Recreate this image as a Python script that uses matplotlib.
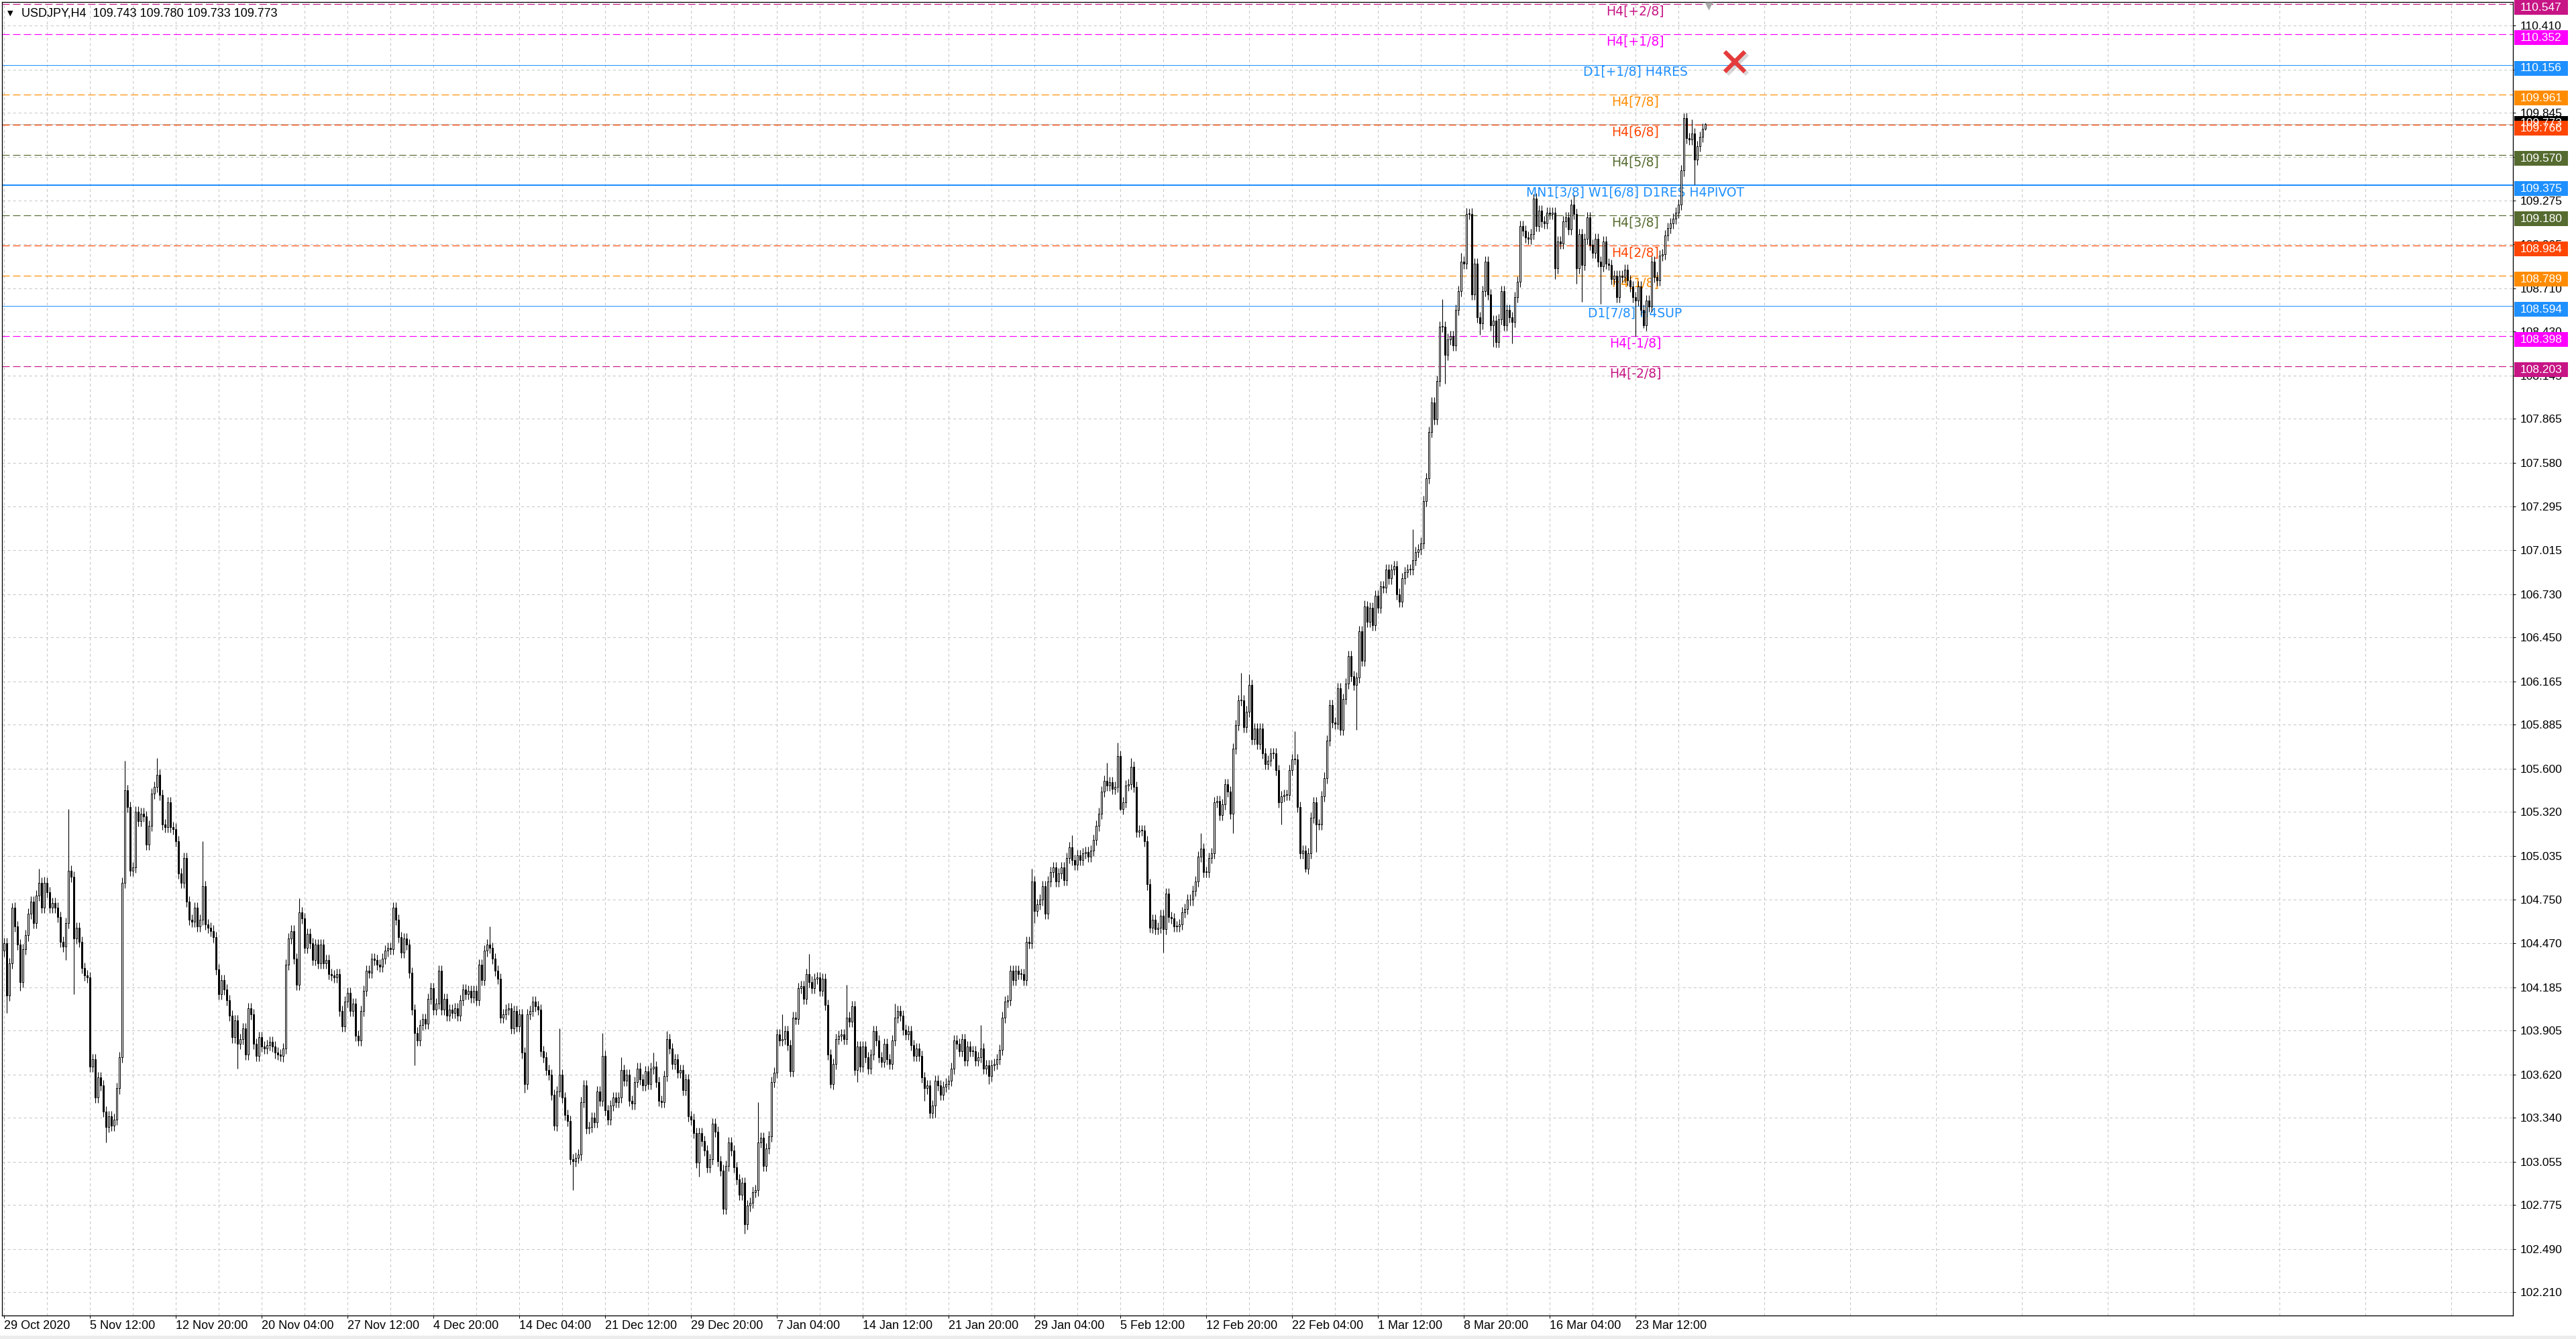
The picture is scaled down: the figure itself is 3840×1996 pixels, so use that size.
import numpy as np
import matplotlib
matplotlib.use("Agg")
import matplotlib.pyplot as plt
from matplotlib.patches import Rectangle
from matplotlib.transforms import offset_copy

plt.rcParams['lines.scale_dashes'] = False

# ---- data (USDJPY H4, one close per bar) ----
first_open = 104.42
closes = [
    # 29 Oct .. early Jan
    104.47, 104.13, 104.34, 104.70, 104.58, 104.46, 104.22, 104.43, 104.52, 104.66,
    104.74, 104.60, 104.78, 104.86, 104.70, 104.86, 104.80, 104.70, 104.73, 104.70,
    104.64, 104.48, 104.45, 104.60, 104.94, 104.90, 104.50, 104.57, 104.48, 104.31,
    104.26, 104.25, 103.67, 103.72, 103.47, 103.60, 103.55, 103.38, 103.28, 103.35,
    103.29, 103.33, 103.53, 103.73, 104.86, 105.46, 105.35, 104.94, 104.96, 105.32,
    105.26, 105.31, 105.29, 105.11, 105.23, 105.44, 105.48, 105.56, 105.43, 105.24,
    105.22, 105.38, 105.22, 105.21, 105.13, 104.92, 104.86, 105.02, 104.74, 104.62,
    104.61, 104.70, 104.58, 104.62, 104.84, 104.59, 104.57, 104.55, 104.51, 104.30,
    104.14, 104.23, 104.17, 104.10, 104.00, 103.86, 103.97, 103.82, 103.85, 103.92,
    103.75, 104.05, 104.01, 103.82, 103.74, 103.86, 103.80, 103.79, 103.81, 103.83,
    103.80, 103.76, 103.75, 103.74, 103.79, 104.33, 104.50, 104.55, 104.37, 104.20,
    104.67, 104.63, 104.44, 104.53, 104.47, 104.36, 104.46, 104.34, 104.46, 104.34,
    104.36, 104.27, 104.26, 104.25, 104.27, 104.03, 103.93, 104.09, 104.15, 104.03,
    104.08, 103.87, 103.84, 104.03, 104.16, 104.29, 104.28, 104.37, 104.36, 104.33,
    104.32, 104.37, 104.42, 104.44, 104.43, 104.70, 104.62, 104.51, 104.41, 104.50,
    104.46, 104.28, 104.04, 103.89, 103.84, 103.94, 103.98, 103.95, 104.11, 104.18,
    104.04, 104.08, 104.29, 104.04, 104.11, 104.00, 104.04, 104.02, 104.05, 104.00,
    104.10, 104.17, 104.14, 104.16, 104.12, 104.16, 104.10, 104.33, 104.23, 104.42,
    104.46, 104.44, 104.37, 104.29, 104.24, 103.99, 104.01, 104.04, 104.05, 103.92,
    104.03, 103.93, 104.01, 103.76, 103.56, 104.01, 104.03, 104.09, 104.06, 104.04,
    103.77, 103.73, 103.65, 103.62, 103.49, 103.29, 103.51, 103.62, 103.47, 103.36,
    103.32, 103.07, 103.06, 103.08, 103.10, 103.44, 103.55, 103.27, 103.28, 103.34,
    103.31, 103.51, 103.45, 103.74,
    # mid Dec .. mid Feb
    103.39, 103.33, 103.42, 103.47, 103.44, 103.47, 103.65, 103.58, 103.62, 103.45,
    103.43, 103.57, 103.66, 103.59, 103.55, 103.64, 103.56, 103.66, 103.67,
    103.57, 103.45, 103.44, 103.61, 103.85, 103.79, 103.69, 103.72, 103.63, 103.65,
    103.52, 103.59, 103.35, 103.33, 103.24, 103.05, 103.24, 103.19, 103.13,
    103.02, 103.07, 103.30, 103.25, 103.06, 103.00, 102.75, 103.03, 103.18, 103.13,
    103.02, 102.94, 102.84, 102.92, 102.65, 102.77, 102.79, 102.86, 102.87, 103.18,
    103.21, 103.03, 103.14, 103.22, 103.57, 103.63, 103.88, 103.84, 103.85, 103.90,
    103.81, 103.64, 103.99, 103.98, 104.18, 104.19, 104.11, 104.27, 104.22, 104.18,
    104.24, 104.25,
    104.16, 104.24, 104.07, 103.75, 103.56, 103.69, 103.85, 103.87,
    103.88, 103.85, 103.99, 103.96, 104.06, 103.65, 103.80, 103.67, 103.80, 103.73,
    103.66, 103.75, 103.90, 103.84, 103.73, 103.70, 103.82, 103.72, 103.69,
    103.84, 103.99, 104.03, 104.00, 103.91, 103.88, 103.90, 103.81, 103.74, 103.79,
    103.74, 103.60, 103.53, 103.55, 103.37, 103.42, 103.58, 103.55, 103.49, 103.54,
    103.56, 103.58, 103.66, 103.84, 103.82, 103.77, 103.85, 103.71, 103.80, 103.77,
    103.77, 103.71, 103.73, 103.79, 103.66, 103.68, 103.61, 103.68, 103.69, 103.72,
    103.78, 103.99, 104.09, 104.10, 104.29, 104.23, 104.29, 104.27,
    104.27, 104.23, 104.48, 104.47, 104.87, 104.68, 104.72, 104.75, 104.84, 104.66,
    104.87, 104.93, 104.96, 104.87, 104.92, 104.96, 104.88, 105.02, 105.09, 105.01,
    104.98, 105.04, 105.01, 105.05, 105.06, 105.03,
    105.07, 105.14, 105.23, 105.31, 105.45, 105.52, 105.49, 105.51, 105.47, 105.48,
    105.68, 105.34, 105.38, 105.49, 105.50, 105.61, 105.48, 105.19, 105.20,
    # Feb .. early Mar
    105.20, 105.13, 104.85, 104.57, 104.62, 104.56, 104.57, 104.65, 104.56, 104.79,
    104.64, 104.63, 104.58, 104.58, 104.59, 104.67, 104.69, 104.75, 104.75, 104.81,
    104.87, 105.03, 105.08, 104.93, 104.93, 105.02, 105.05, 105.38, 105.39, 105.30,
    105.37, 105.50, 105.45, 105.31, 105.73, 105.88, 106.04, 106.04, 105.87, 105.97,
    106.14, 105.79, 105.86, 105.76, 105.86, 105.70, 105.63, 105.65, 105.70, 105.70,
    105.59, 105.38, 105.42, 105.43, 105.43, 105.59, 105.66, 105.66, 105.35, 105.05,
    105.07, 104.95, 105.05, 105.28, 105.38, 105.24, 105.24, 105.42, 105.54, 105.78,
    106.01, 105.90, 105.89, 106.12, 105.85, 106.05, 106.15, 106.33, 106.20, 106.14,
    106.19, 106.49, 106.30, 106.65, 106.55, 106.64, 106.53, 106.72, 106.64, 106.78,
    106.77, 106.89, 106.83, 106.89, 106.91, 106.73, 106.68, 106.83, 106.87, 106.89,
    # Mar rally .. 29 Mar
    106.89, 106.95, 107.00, 107.02, 107.06, 107.33, 107.48, 107.78, 107.97, 107.86,
    108.11, 108.46, 108.46, 108.28, 108.38, 108.40, 108.34, 108.57, 108.69, 108.88,
    108.87, 109.19, 109.19, 108.67, 108.87, 108.52, 108.48, 108.69, 108.88, 108.67,
    108.47, 108.50, 108.36, 108.51, 108.69, 108.47, 108.57, 108.52, 108.49, 108.65,
    108.75, 109.11, 109.08, 109.04, 109.03, 109.06, 109.29, 109.11, 109.21, 109.14,
    109.13, 109.20, 109.19, 109.20, 108.84, 109.01, 109.00, 109.14, 109.17, 109.09,
    109.25, 109.19, 108.84, 109.06, 108.86, 109.03, 109.17, 108.99, 108.94, 109.03,
    108.88, 108.85, 109.01, 108.87, 108.86, 108.77, 108.79, 108.65, 108.79, 108.78,
    108.83, 108.76, 108.72, 108.65, 108.63, 108.72, 108.57, 108.47, 108.63, 108.59,
    108.88, 108.78, 108.76, 108.92, 108.93, 109.05, 109.10, 109.13, 109.16, 109.20,
    109.25, 109.47, 109.81, 109.68, 109.67, 109.71, 109.54, 109.63, 109.69, 109.743,
    109.773,
]

# wicks that stand out clearly in the picture (bar index, price)
high_bars = [3, 13, 15, 24, 45, 57, 74, 110, 181, 207, 223, 230, 242, 247, 281, 290,
             300, 314, 332, 364, 383, 398, 411, 415, 420, 446, 461, 464, 481, 507,
             525, 536, 543, 545, 547, 570, 585, 626, 629, 634]
high_vals = [104.73, 104.95, 104.90, 105.34, 105.65, 105.67, 105.13, 104.76, 104.58,
             103.92, 103.89, 103.73, 103.76, 103.90, 103.44, 104.01, 104.40, 104.20,
             104.08, 103.94, 104.95, 105.17, 105.64, 105.77, 105.67, 105.18, 106.22,
             106.21, 105.84, 106.69, 107.15, 108.64, 108.94, 109.23, 109.23, 109.32,
             109.31, 109.84, 109.80, 109.780]
low_bars = [1, 6, 23, 26, 38, 87, 104, 153, 194, 205, 212, 259, 276, 308, 318, 343,
            347, 367, 384, 416, 427, 432, 458, 476, 485, 489, 504, 537, 550, 555,
            562, 578, 586, 588, 595, 608, 611, 630, 634]
low_vals = [104.02, 104.16, 104.36, 104.14, 103.18, 103.66, 103.70, 103.68, 103.50,
            103.26, 102.87, 102.96, 102.59, 103.53, 103.57, 103.45, 103.34, 103.56,
            104.60, 105.33, 104.54, 104.41, 105.18, 105.24, 104.93, 105.06, 105.85,
            108.09, 108.41, 108.33, 108.35, 108.77, 108.74, 108.62, 108.61, 108.40,
            108.45, 109.38, 109.733]

symbol = 'USDJPY,H4'
quote = [109.743, 109.780, 109.733, 109.773]   # open high low close of last bar
last_price = 109.773

date_labels = ['29 Oct 2020', '5 Nov 12:00', '12 Nov 20:00', '20 Nov 04:00',
               '27 Nov 12:00', '4 Dec 20:00', '14 Dec 04:00', '21 Dec 12:00',
               '29 Dec 20:00', '7 Jan 04:00', '14 Jan 12:00', '21 Jan 20:00',
               '29 Jan 04:00', '5 Feb 12:00', '12 Feb 20:00', '22 Feb 04:00',
               '1 Mar 12:00', '8 Mar 20:00', '16 Mar 04:00', '23 Mar 12:00']

price_ticks = [102.210, 102.490, 102.775, 103.055, 103.340, 103.620, 103.905, 104.185,
               104.470, 104.750, 105.035, 105.320, 105.600, 105.885, 106.165, 106.450,
               106.730, 107.015, 107.295, 107.580, 107.865, 108.145, 108.430, 108.710,
               108.995, 109.275, 109.560, 109.845, 110.125, 110.410]

level_prices = [110.547, 110.352, 110.156, 109.961, 109.766, 109.570, 109.375,
                109.180, 108.984, 108.789, 108.594, 108.398, 108.203]
level_names = ['H4[+2/8]', 'H4[+1/8]', 'D1[+1/8] H4RES', 'H4[7/8]', 'H4[6/8]',
               'H4[5/8]', 'MN1[3/8] W1[6/8] D1RES H4PIVOT', 'H4[3/8]', 'H4[2/8]',
               'H4[1/8]', 'D1[7/8] H4SUP', 'H4[-1/8]', 'H4[-2/8]']
level_colors = ['#C71585', '#FF00FF', '#1E90FF', '#FF8C00', '#FF4500', '#556B2F',
                '#1E90FF', '#556B2F', '#FF4500', '#FF8C00', '#1E90FF', '#FF00FF',
                '#C71585']

# ---- layout (pixels of the 3840x1996 screenshot) ----
W, H, DPI = 3840, 1996, 100
PX = 0.72                      # one pixel in points
left, top, right, bottom = 3, 3, 3746, 1961
bar_px = 4
y_lo, y_hi = 102.060, 110.562
label_bar = 608                # where the level captions sit
scale_font = ['Liberation Sans', 'DejaVu Sans']

fig = plt.figure(figsize=(W / DPI, H / DPI), dpi=DPI, facecolor='white')
ax = fig.add_axes([left / W, 1 - bottom / H, (right - left) / W, (bottom - top) / H])
ax.set_facecolor('white')
x0 = -(5.5 - left) / bar_px
ax.set_xlim(x0, x0 + (right - left) / bar_px)
ax.set_ylim(y_lo, y_hi)


def price_px(p):
    return top + (y_hi - p) / (y_hi - y_lo) * (bottom - top)


# grid
ax.set_axisbelow(True)
major_x = np.arange(len(date_labels)) * 32
ax.set_xticks(major_x, labels=date_labels)
ax.set_xticks(np.arange(16, 940, 32), minor=True)
ax.set_yticks(price_ticks, labels=['%.3f' % t for t in price_ticks])
grid_style = dict(color='#c4c4c4', linewidth=PX, linestyle=(0, (2.9, 2.9)))
ax.grid(True, axis='x', which='both', **grid_style)
ax.grid(True, axis='y', which='major', **grid_style)

ax.yaxis.tick_right()
ax.tick_params(axis='y', direction='out', length=3, width=PX, pad=5, labelsize=12.5,
               labelfontfamily='Liberation Sans')
ax.tick_params(axis='x', which='major', direction='out', length=3, width=PX, pad=2,
               labelsize=13, labelfontfamily='Liberation Sans')
ax.tick_params(axis='x', which='minor', length=0)
for lab in ax.get_xticklabels():
    lab.set_horizontalalignment('left')
for s in ax.spines.values():
    s.set_color('black')
    s.set_linewidth(PX * 1.3)

# bid line
ax.axhline(last_price, color='#c0c0c0', linewidth=PX, zorder=1)

# level lines and captions (behind the candles)
for p, name, col in zip(level_prices, level_names, level_colors):
    if name.startswith('H4['):
        ax.axhline(p, color=col, linewidth=PX * 1.2, linestyle=(0, (7.9, 3.6)), zorder=1)
    elif 'PIVOT' in name:
        ax.axhline(p, color=col, linewidth=PX * 2.0, zorder=1)
    else:
        ax.axhline(p, color=col, linewidth=PX, zorder=1)
    ax.text(label_bar, p, name, color=col, fontsize=13.5, family='DejaVu Sans',
            ha='center', va='top', zorder=1.5,
            transform=offset_copy(ax.transData, fig=fig, y=-1, units='dots'))

# candles
c = np.array(closes)
o = np.concatenate([[first_open], c[:-1]])
x = np.arange(len(c))
body_top = np.maximum(o, c)
body_bot = np.minimum(o, c)
hi = body_top + 0.035
lo = body_bot - 0.035
for b, v in zip(high_bars, high_vals):
    hi[b] = max(v, body_top[b])
for b, v in zip(low_bars, low_vals):
    lo[b] = min(v, body_bot[b])
ax.vlines(x, lo, hi, color='black', linewidth=PX * 1.1, zorder=3)
height = np.maximum(body_top - body_bot, 0.004)
up = c >= o
ax.bar(x[up], height[up], bottom=body_bot[up], width=0.5, facecolor='white',
       edgecolor='black', linewidth=PX, zorder=4)
ax.bar(x[~up], height[~up], bottom=body_bot[~up], width=0.5, facecolor='black',
       edgecolor='black', linewidth=PX, zorder=4)

# red cross and shift marker
shadow = offset_copy(ax.transData, fig=fig, x=3, y=-3, units='dots')
ax.plot([645], [110.175], marker='x', ms=21, mew=5, color='#b0b0b0', alpha=0.5,
        transform=shadow, zorder=6, clip_on=False)
ax.plot([645], [110.175], marker='x', ms=21, mew=4.5, color='#e53b3b', zorder=7,
        clip_on=False)
ax.plot([635.4], [110.537], marker='v', ms=8, color='#a8a8a8', mec='none', zorder=7)


# price boxes on the right scale
def price_box(p, col, dy):
    yc = price_px(p) + dy
    fig.add_artist(Rectangle((3748 / W, 1 - (yc + 11) / H), 80 / W, 22 / H,
                             transform=fig.transFigure, facecolor=col,
                             edgecolor='none', zorder=2))
    fig.text(3757 / W, 1 - yc / H, '%.3f' % p, color='white', fontsize=12.5,
             family=scale_font, ha='left', va='center', zorder=3)


price_box(last_price, 'black', -1)
for p, col in zip(level_prices, level_colors):
    price_box(p, col, 5)

# header
fig.text(11 / W, 1 - 20 / H, '\u25BC', fontsize=8, family='DejaVu Sans',
         ha='left', va='center')
fig.text(32 / W, 1 - 20 / H, symbol + '  ' + ' '.join('%.3f' % q for q in quote),
         fontsize=13, family=scale_font, ha='left', va='center')

# status strip at the bottom
fig.add_artist(Rectangle((0, 0), 1, 5 / H, transform=fig.transFigure,
                         facecolor='#ececec', edgecolor='none', zorder=1))

fig.savefig('out.png', dpi=DPI, facecolor='white')
